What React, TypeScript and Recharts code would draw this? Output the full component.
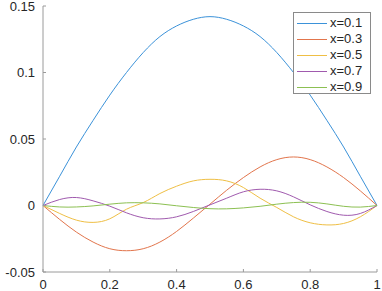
import React from 'react';
import { LineChart, Line, XAxis, YAxis } from 'recharts';

// horizontal axis samples
const tValues = [0, 0.05, 0.1, 0.15, 0.2, 0.25, 0.3, 0.35, 0.4, 0.45, 0.5, 0.55, 0.6, 0.65, 0.7, 0.75, 0.8, 0.85, 0.9, 0.95, 1];

// one curve per legend entry
const x01 = [0, 0.022, 0.044, 0.064, 0.083, 0.1, 0.115, 0.127, 0.135, 0.14, 0.142, 0.14, 0.135, 0.127, 0.115, 0.1, 0.083, 0.064, 0.044, 0.022, 0];
const x03 = [0, -0.0105, -0.02, -0.0275, -0.0325, -0.034, -0.0325, -0.0275, -0.0195, -0.0095, 0.001, 0.0115, 0.021, 0.029, 0.0345, 0.0365, 0.0345, 0.029, 0.021, 0.011, 0];
const x05 = [0, -0.006, -0.011, -0.0127, -0.01, -0.0028, 0.0022, 0.009, 0.0145, 0.0185, 0.0197, 0.0185, 0.0135, 0.0055, -0.0015, -0.0085, -0.013, -0.0146, -0.0135, -0.0085, 0];
const x07 = [0, 0.0045, 0.006, 0.0035, -0.0005, -0.0055, -0.0092, -0.0101, -0.0085, -0.0045, 0.0005, 0.0055, 0.0103, 0.0122, 0.011, 0.0065, 0.0005, -0.0045, -0.0073, -0.006, 0];
const x09 = [0, -0.0011, -0.0011, -0.0003, 0.001, 0.002, 0.002, 0.0012, -0.0002, -0.0015, -0.0024, -0.0025, -0.0018, -0.0006, 0.001, 0.0022, 0.0024, 0.0012, -0.0006, -0.0012, 0];

const seriesNames = ['x=0.1', 'x=0.3', 'x=0.5', 'x=0.7', 'x=0.9'];
const seriesValues = [x01, x03, x05, x07, x09];
const colors = ['#3b92d9', '#e2754c', '#efbf45', '#a05aae', '#8cc052'];

const xTicks = [0, 0.2, 0.4, 0.6, 0.8, 1];
const yTicks = [-0.05, 0, 0.05, 0.1, 0.15];

const data = tValues.map((t, i) => {
  const row: Record<string, number> = { t };
  seriesNames.forEach((name, k) => {
    row[name] = seriesValues[k][i];
  });
  return row;
});

const FONT = '"Liberation Sans", Arial, sans-serif';
const AXIS = '#9a9a9a';

function LegendBox() {
  return (
    <div
      style={{
        position: 'absolute',
        left: 293,
        top: 12,
        width: 78,
        height: 82,
        background: '#fff',
        border: '1px solid #8a8a8a',
        boxSizing: 'border-box',
        fontFamily: FONT,
        fontSize: 13,
        color: '#262626',
        paddingTop: 2,
      }}
    >
      {seriesNames.map((name, k) => (
        <div key={name} style={{ display: 'flex', alignItems: 'center', height: 16 }}>
          <svg width={36} height={16} style={{ display: 'block' }}>
            <rect x={3} y={8} width={30} height={1} fill={colors[k]} />
          </svg>
          <span style={{ lineHeight: '16px' }}>{name}</span>
        </div>
      ))}
    </div>
  );
}

export default function App() {
  return (
    <div style={{ position: 'absolute', left: 0, top: 0, width: 382, height: 291, background: '#fff' }}>
      <LineChart
        width={382}
        height={291}
        data={data}
        margin={{ top: 6, right: 5, bottom: 0, left: 0 }}
      >
        <XAxis
          dataKey="t"
          type="number"
          domain={[0, 1]}
          ticks={xTicks}
          height={19}
          tickSize={-3}
          tickMargin={11}
          stroke={AXIS}
          tick={{ fill: '#262626', fontSize: 13, fontFamily: FONT }}
          interval={0}
        />
        <YAxis
          type="number"
          domain={[-0.05, 0.15]}
          ticks={yTicks}
          width={43}
          tickSize={-3}
          tickMargin={11}
          stroke={AXIS}
          tick={{ fill: '#262626', fontSize: 13, fontFamily: FONT }}
          interval={0}
          allowDataOverflow
        />
        {seriesNames.map((name, k) => (
          <Line
            key={name}
            dataKey={name}
            type="natural"
            stroke={colors[k]}
            strokeWidth={1}
            dot={false}
            isAnimationActive={false}
          />
        ))}
      </LineChart>
      <LegendBox />
    </div>
  );
}
